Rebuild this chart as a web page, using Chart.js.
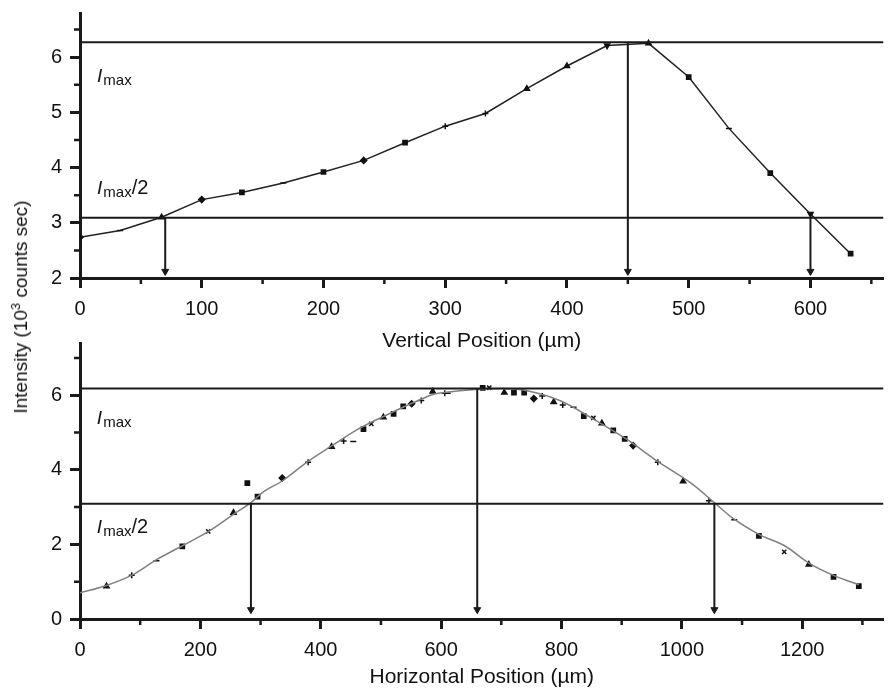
<!DOCTYPE html>
<html>
<head>
<meta charset="utf-8">
<script src="https://cdn.jsdelivr.net/npm/chart.js@4.4.1/dist/chart.umd.min.js"></script>
<style>
body { margin: 0; background: #fff; }
#wrap { position: relative; width: 889px; height: 690px; overflow: hidden; }
canvas { position: absolute; left: 0; }
#vertChart { top: 0; }
#horizChart { top: 330px; }
#ytitle {
    position: absolute; left: 20px; top: 307px;
    transform: translate(-50%, -50%) rotate(-90deg);
    font: 19px "Liberation Sans", Arial, sans-serif;
    white-space: nowrap; color: #111;
}
#ytitle span { font-size: 13px; vertical-align: 7px; }
</style>
</head>
<body>
<div id="wrap">
    <canvas id="vertChart" width="889" height="354"></canvas>
    <canvas id="horizChart" width="889" height="360"></canvas>
    <div id="ytitle">Intensity (10<span>3</span> counts sec)</div>
</div>
<script>
const FONT = '"Liberation Sans", Arial, sans-serif';
const INK = '#1a1a1a';

// vertical scan (um, 10^3 counts/sec)
const vertPos = [0, 33, 67, 100, 133, 167, 200, 233, 267, 300, 333, 367, 400, 433, 467, 500, 533, 567, 600, 633];
const vertInt = [2.74, 2.86, 3.10, 3.42, 3.55, 3.72, 3.92, 4.13, 4.45, 4.75, 4.98, 5.43, 5.84, 6.21, 6.25, 5.64, 4.71, 3.90, 3.16, 2.44];
const vertMax = 6.27;
const vertHalf = 3.09;
const vertCuts = [70, 450, 600];
const vertCutLevels = [vertHalf, vertMax, vertHalf];
const vertXTicks = [0, 100, 200, 300, 400, 500, 600];
const vertYTicks = [2, 3, 4, 5, 6];
const vertXMinor = [50, 150, 250, 350, 450, 550, 650];
const vertYMinor = [2.5, 3.5, 4.5, 5.5, 6.5];

// horizontal scan: fitted curve and measured points
const horizCurvePos = [0, 44, 88, 127, 171, 215, 259, 284, 303, 336, 380, 418, 462, 512, 561, 589, 620, 660, 700, 743, 798, 853, 908, 963, 1018, 1054, 1084, 1128, 1172, 1211, 1255, 1294];
const horizCurveInt = [0.70, 0.90, 1.19, 1.59, 1.97, 2.36, 2.85, 3.12, 3.39, 3.70, 4.24, 4.64, 5.09, 5.49, 5.85, 6.03, 6.10, 6.16, 6.18, 6.12, 5.85, 5.36, 4.82, 4.19, 3.61, 3.12, 2.71, 2.27, 1.95, 1.50, 1.15, 0.92];
const horizPos = [44, 86, 127, 170, 213, 255, 278, 295, 336, 379, 418, 438, 454, 471, 484, 504, 521, 537, 551, 567, 586, 606, 611, 669, 680, 705, 721, 738, 754, 768, 787, 802, 820, 837, 853, 867, 886, 905, 919, 960, 1002, 1045, 1087, 1128, 1170, 1211, 1252, 1294];
const horizInt = [0.88, 1.17, 1.56, 1.95, 2.35, 2.85, 3.64, 3.28, 3.78, 4.20, 4.62, 4.77, 4.76, 5.09, 5.23, 5.41, 5.50, 5.70, 5.77, 5.86, 6.10, 6.05, 6.05, 6.20, 6.20, 6.07, 6.07, 6.07, 5.91, 5.98, 5.82, 5.74, 5.68, 5.44, 5.39, 5.25, 5.06, 4.83, 4.65, 4.20, 3.69, 3.17, 2.66, 2.23, 1.80, 1.46, 1.13, 0.88];
const horizMax = 6.18;
const horizHalf = 3.09;
const horizCuts = [284, 660, 1054];
const horizCutLevels = [horizHalf, horizMax, horizHalf];
const horizXTicks = [0, 200, 400, 600, 800, 1000, 1200];
const horizYTicks = [0, 2, 4, 6];
const horizXMinor = [100, 300, 500, 700, 900, 1100, 1300];
const horizYMinor = [1, 3, 5, 7];

// marker shapes
const vertMarkers = ['rectRot', 'line', 'triangle', 'rectRot', 'rect', 'line', 'rect', 'rectRot', 'rect', 'cross',
                     'cross', 'triangle', 'triangle', 'triangle', 'triangle', 'rect', 'line', 'rect', 'triangle', 'rect'];
const vertFlip = [0, 0, 0, 0, 0, 0, 0, 0, 0, 0, 0, 0, 0, 180, 0, 0, 0, 0, 180, 0];
const horizMarkers = ['triangle', 'cross', 'line', 'rect', 'crossRot', 'triangle', 'rect', 'rect', 'rectRot', 'cross'];

const zip = (xs, ys) => xs.map((x, i) => ({x: x, y: ys[i]}));

// minor ticks plus the I_max labels
const extras = {
    id: 'extras',
    afterDatasetsDraw(chart, args, opts) {
        const ctx = chart.ctx;
        const x = chart.scales.x, y = chart.scales.y;
        const area = chart.chartArea;
        ctx.save();
        ctx.strokeStyle = INK;
        ctx.lineWidth = 2.5;
        ctx.beginPath();
        opts.minorX.forEach(v => {
            const px = x.getPixelForValue(v);
            ctx.moveTo(px, area.bottom);
            ctx.lineTo(px, area.bottom + 6);
        });
        opts.minorY.forEach(v => {
            const py = y.getPixelForValue(v);
            ctx.moveTo(area.left, py);
            ctx.lineTo(area.left - 6, py);
        });
        ctx.stroke();

        ctx.fillStyle = '#111';
        ctx.textBaseline = 'alphabetic';
        ctx.textAlign = 'left';
        opts.labels.forEach(l => {
            let px = x.getPixelForValue(l.x);
            const py = y.getPixelForValue(l.y);
            ctx.font = 'italic 19px ' + FONT;
            ctx.fillText('I', px, py);
            px += ctx.measureText('I').width + 1;
            ctx.font = '15px ' + FONT;
            ctx.fillText('max', px, py + 3);
            px += ctx.measureText('max').width;
            if (l.tail) {
                ctx.font = '20px ' + FONT;
                ctx.fillText(l.tail, px, py);
            }
        });
        ctx.restore();
    }
};

function levelLine(level, xmax) {
    return {
        data: [{x: 0, y: level}, {x: xmax, y: level}],
        borderColor: INK, borderWidth: 2, pointRadius: 0
    };
}

function arrow(pos, from, to) {
    return {
        data: [{x: pos, y: from}, {x: pos, y: to}],
        borderColor: INK, borderWidth: 2,
        pointRadius: [0, 4], pointStyle: 'triangle', pointRotation: 180,
        pointBackgroundColor: INK, pointBorderColor: INK, pointBorderWidth: 1
    };
}

function makeScales(xmin, xmax, xticks, xtitle, xheight, ymin, ymax, yticks) {
    return {
        x: {
            type: 'linear', min: xmin, max: xmax,
            afterBuildTicks: s => { s.ticks = xticks.map(v => ({value: v})); },
            afterFit: s => { s.height = xheight; s.paddingLeft = 0; s.paddingRight = 0; },
            border: {display: true, width: 3, color: INK},
            grid: {drawOnChartArea: false, tickLength: 10, tickWidth: 3, color: INK},
            ticks: {
                color: '#111', font: {size: 20, family: FONT}, padding: 9, maxRotation: 0, autoSkip: false,
                callback: v => String(v)
            },
            title: {display: true, text: xtitle, color: '#111', font: {size: 21, family: FONT}, padding: 0}
        },
        y: {
            type: 'linear', min: ymin, max: ymax,
            afterBuildTicks: s => { s.ticks = yticks.map(v => ({value: v})); },
            afterFit: s => { s.width = 80; s.paddingTop = 0; s.paddingBottom = 0; },
            border: {display: true, width: 3, color: INK},
            grid: {drawOnChartArea: false, tickLength: 10, tickWidth: 3, color: INK},
            ticks: {color: '#111', font: {size: 20, family: FONT}, padding: 8, callback: v => String(v)}
        }
    };
}

function baseOptions(scales, extraOpts) {
    return {
        responsive: false,
        animation: false,
        events: [],
        layout: {padding: {top: 13, right: 2, left: 0, bottom: 0}},
        plugins: {legend: {display: false}, tooltip: {enabled: false}, extras: extraOpts},
        scales: scales
    };
}

new Chart(document.getElementById('vertChart'), {
    type: 'line',
    data: {
        datasets: [
            levelLine(vertMax, 660),
            levelLine(vertHalf, 660),
            ...vertCuts.map((c, i) => arrow(c, vertCutLevels[i], 2.12)),
            {
                data: zip(vertPos, vertInt),
                borderColor: '#222', borderWidth: 1.5,
                pointRadius: 3, pointStyle: vertMarkers, pointRotation: vertFlip,
                pointBackgroundColor: '#111', pointBorderColor: '#111', pointBorderWidth: 1.5
            }
        ]
    },
    options: baseOptions(
        makeScales(0, 660, vertXTicks, 'Vertical Position (\u00b5m)', 76, 2, 6.8, vertYTicks),
        {
            minorX: vertXMinor, minorY: vertYMinor,
            labels: [{x: 14, y: 5.55}, {x: 14, y: 3.52, tail: '/2'}]
        }
    ),
    plugins: [extras]
});

new Chart(document.getElementById('horizChart'), {
    type: 'line',
    data: {
        datasets: [
            levelLine(horizMax, 1335),
            levelLine(horizHalf, 1335),
            ...horizCuts.map((c, i) => arrow(c, horizCutLevels[i], 0.25)),
            {
                data: zip(horizCurvePos, horizCurveInt),
                borderColor: '#808080', borderWidth: 1.5,
                cubicInterpolationMode: 'monotone', pointRadius: 0
            },
            {
                data: zip(horizPos, horizInt),
                showLine: false,
                pointRadius: 3,
                pointStyle: ctx => horizMarkers[ctx.dataIndex % horizMarkers.length],
                pointBackgroundColor: '#111', pointBorderColor: '#111', pointBorderWidth: 1.5
            }
        ]
    },
    options: baseOptions(
        makeScales(0, 1335, horizXTicks, 'Horizontal Position (\u00b5m)', 71, 0, 7.4, horizYTicks),
        {
            minorX: horizXMinor, minorY: horizYMinor,
            labels: [{x: 28, y: 5.22}, {x: 28, y: 2.31, tail: '/2'}]
        }
    ),
    plugins: [extras]
});
</script>
</body>
</html>
